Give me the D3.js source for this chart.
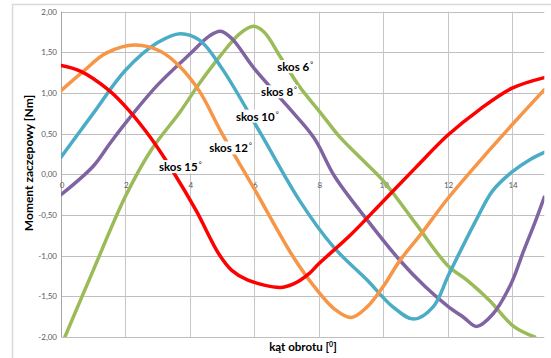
<!DOCTYPE html>
<html>
<head>
<meta charset="utf-8">
<script src="https://cdn.jsdelivr.net/npm/d3@7"></script>
<style>
  body { margin: 0; background: #fff; }
  svg { display: block; }
</style>
</head>
<body>
<div id="chart"></div>
<script>
const W = 551, H = 358;

// series (x = kąt obrotu, y = moment)
const red_x = [0, 0.6, 1.5, 2.1, 2.8, 3.5, 4.2, 4.9, 5.3, 5.8, 6.8, 7.2, 7.7, 8.0, 9.0, 10.0, 11.0, 12.0, 13.0, 14.0, 15];
const red_y = [1.34, 1.27, 1.03, 0.79, 0.44, 0.02, -0.45, -0.98, -1.18, -1.30, -1.39, -1.35, -1.22, -1.10, -0.74, -0.33, 0.08, 0.48, 0.80, 1.06, 1.19];

const orange_x = [0, 0.7, 1.4, 2.3, 3.1, 3.7, 4.3, 5.0, 6.0, 7.2, 7.9, 8.5, 9.0, 9.5, 10.0, 10.5, 11.2, 12.0, 13.3, 14.0, 15];
const orange_y = [1.03, 1.27, 1.49, 1.59, 1.51, 1.32, 1.02, 0.50, -0.18, -1.01, -1.40, -1.66, -1.76, -1.63, -1.38, -1.07, -0.72, -0.30, 0.30, 0.61, 1.04];

const blue_x = [0, 1.0, 2.0, 3.0, 3.7, 4.3, 5.0, 6.2, 7.4, 8.45, 9.5, 10.3, 10.95, 11.55, 12.05, 12.9, 13.4, 14.0, 14.55, 15];
const blue_y = [0.21, 0.75, 1.28, 1.62, 1.73, 1.65, 1.30, 0.50, -0.32, -0.89, -1.30, -1.63, -1.78, -1.63, -1.22, -0.55, -0.20, 0.03, 0.18, 0.27];

const purple_x = [0, 1.0, 1.5, 2.0, 3.0, 4.0, 4.6, 4.95, 5.3, 6.0, 7.0, 7.85, 8.5, 9.5, 10.5, 11.3, 12.0, 12.5, 12.9, 13.4, 13.95, 14.35, 14.75, 15];
const purple_y = [-0.25, 0.10, 0.37, 0.63, 1.10, 1.48, 1.70, 1.76, 1.67, 1.30, 0.85, 0.45, -0.03, -0.56, -1.05, -1.38, -1.62, -1.76, -1.87, -1.72, -1.36, -0.95, -0.55, -0.28];

const green_x = [0.12, 1.0, 2.0, 2.8, 3.7, 4.3, 4.95, 5.55, 5.97, 6.3, 6.8, 7.4, 8.05, 8.65, 9.3, 10.0, 11.0, 12.0, 12.6, 13.3, 14.05, 14.7];
const green_y = [-2.0, -1.18, -0.27, 0.30, 0.77, 1.12, 1.46, 1.73, 1.82, 1.75, 1.45, 1.08, 0.76, 0.46, 0.20, -0.08, -0.60, -1.12, -1.30, -1.55, -1.87, -2.0];

const seriesNames = ['skos 15', 'skos 12', 'skos 10', 'skos 8', 'skos 6'];
const seriesColors = ['#ff0000', '#f79646', '#4bacc6', '#8064a2', '#9bbb59'];
// label anchor (data coords) for each series
const label_x = [3.04, 4.6, 5.43, 6.21, 6.71];
const label_y = [0.04, 0.27, 0.66, 0.96, 1.27];

const xTicks = [0, 2, 4, 6, 8, 10, 12, 14];
const yTicks = [-2, -1.5, -1, -0.5, 0, 0.5, 1, 1.5, 2];

const series = [
    { x: red_x, y: red_y },
    { x: orange_x, y: orange_y },
    { x: blue_x, y: blue_y },
    { x: purple_x, y: purple_y },
    { x: green_x, y: green_y },
];

const svg = d3.select('#chart').append('svg')
    .attr('width', W)
    .attr('height', H);

// outer chart frame
svg.append('path')
    .attr('d', `M12.5,${H} V4.5 H${W}`)
    .attr('fill', 'none')
    .attr('stroke', '#d9d9d9')
    .attr('stroke-width', 1.5);

const xScale = d3.scaleLinear().domain([0, 15]).range([61, 544.3]);
const yScale = d3.scaleLinear().domain([-2, 2]).range([337, 11.7]);

// grid
svg.append('g')
    .selectAll('line')
    .data(yTicks)
    .enter()
    .append('line')
    .attr('x1', xScale(0))
    .attr('x2', xScale(15))
    .attr('y1', d => Math.round(yScale(d)) + 0.5)
    .attr('y2', d => Math.round(yScale(d)) + 0.5)
    .attr('stroke', '#bfbfbf');

svg.append('g')
    .selectAll('line')
    .data(xTicks)
    .enter()
    .append('line')
    .attr('x1', d => Math.round(xScale(d)) + 0.5)
    .attr('x2', d => Math.round(xScale(d)) + 0.5)
    .attr('y1', yScale(2))
    .attr('y2', yScale(-2))
    .attr('stroke', d => d === 0 ? '#a6a6a6' : '#c6c6c6');

// y tick labels
svg.append('g')
    .selectAll('text')
    .data(yTicks)
    .enter()
    .append('text')
    .attr('x', 57)
    .attr('y', d => yScale(d) + 3)
    .attr('text-anchor', 'end')
    .style('font-family', 'Lato, sans-serif')
    .style('font-size', '8px')
    .style('fill', '#595959')
    .text(d => d3.format('.2f')(d).replace('.', ',').replace('−', '-'));

// x tick labels, sitting under the zero line
svg.append('g')
    .selectAll('text')
    .data(xTicks)
    .enter()
    .append('text')
    .attr('x', d => xScale(d) + 1)
    .attr('y', yScale(0) + 14)
    .attr('text-anchor', 'middle')
    .style('font-family', 'Lato, sans-serif')
    .style('font-size', '8px')
    .style('fill', '#595959')
    .text(d => d);

// lines
svg.append('clipPath')
    .attr('id', 'plotClip')
    .append('rect')
    .attr('x', xScale(0))
    .attr('y', yScale(2) - 2)
    .attr('width', xScale(15) - xScale(0))
    .attr('height', yScale(-2) - yScale(2) + 2);

const line = d3.line()
    .x(d => xScale(d[0]))
    .y(d => yScale(d[1]))
    .curve(d3.curveCatmullRom.alpha(0.5));

const linesG = svg.append('g').attr('clip-path', 'url(#plotClip)');
// draw green first so red ends up on top
[4, 3, 2, 1, 0].forEach(i => {
    const s = series[i];
    linesG.append('path')
        .datum(s.x.map((x, j) => [x, s.y[j]]))
        .attr('fill', 'none')
        .attr('stroke', seriesColors[i])
        .attr('stroke-width', 3.5)
        .attr('stroke-linejoin', 'round')
        .attr('stroke-linecap', 'round')
        .attr('d', line);
});

// series labels with white boxes
seriesNames.forEach((name, i) => {
    const g = svg.append('g');
    const t = g.append('text')
        .attr('x', xScale(label_x[i]))
        .attr('y', yScale(label_y[i]))
        .style('font-family', 'Lato, sans-serif')
        .style('font-size', '11.5px')
        .style('font-weight', 'bold')
        .style('fill', '#000');
    t.append('tspan').text(name);
    t.append('tspan')
        .attr('dy', -4)
        .attr('dx', 1)
        .style('font-size', '7px')
        .style('font-weight', 'normal')
        .text('°');
    const bb = t.node().getBBox();
    g.insert('rect', 'text')
        .attr('x', bb.x - 1)
        .attr('y', bb.y)
        .attr('width', bb.width + 2)
        .attr('height', bb.height)
        .attr('fill', '#fff');
});

// axis titles
svg.append('text')
    .attr('transform', 'translate(33,163) rotate(-90)')
    .attr('text-anchor', 'middle')
    .style('font-family', 'Lato, sans-serif')
    .style('font-size', '12px')
    .style('font-weight', 'bold')
    .style('fill', '#000')
    .text('Moment zaczepowy [Nm]');

const xt = svg.append('text')
    .attr('x', 303)
    .attr('y', 351)
    .attr('text-anchor', 'middle')
    .style('font-family', 'Lato, sans-serif')
    .style('font-size', '11.5px')
    .style('font-weight', 'bold')
    .style('fill', '#000');
xt.append('tspan').text('kąt obrotu [');
xt.append('tspan').attr('dy', -4).style('font-size', '7px').text('0');
xt.append('tspan').attr('dy', 4).text(']');
</script>
</body>
</html>
